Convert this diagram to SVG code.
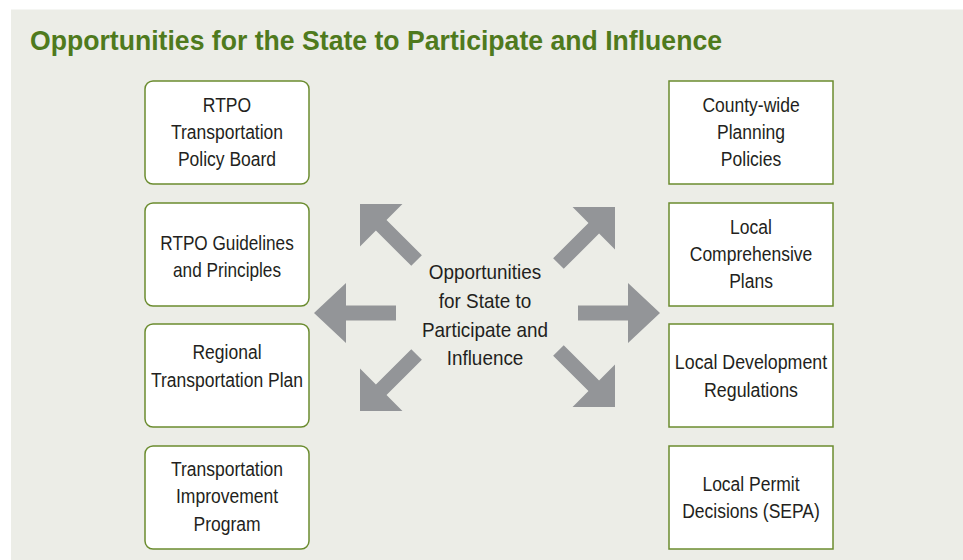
<svg xmlns="http://www.w3.org/2000/svg" width="963" height="560" viewBox="0 0 963 560">
<style>
.bg{fill:#ffffff}
.panel{fill:#ecede7}
.title{font-family:"Liberation Sans",Arial,sans-serif;font-weight:bold;font-size:28px;fill:#4f7a1d}
.box{fill:#ffffff;stroke:#6b8c2f;stroke-width:1.5}
.lbl{font-family:"Liberation Sans",Arial,sans-serif;font-size:20px;fill:#231f20;text-anchor:middle}
.clbl{font-family:"Liberation Sans",Arial,sans-serif;font-size:21px;fill:#231f20;text-anchor:middle}
.arrow{fill:#939598}
</style>
<defs>
<path id="ah" d="M0,0 L-32,-30 L-32,-7.5 L-82,-7.5 L-82,7.5 L-32,7.5 L-32,30 Z"/>
<path id="ad" d="M0,0 L-30,-30 L-30,-7.5 L-80,-7.5 L-80,7.5 L-30,7.5 L-30,30 Z"/>
</defs>
<rect class="bg" x="0" y="0" width="963" height="560"/>
<rect class="panel" x="11" y="9.5" width="952" height="551"/>
<text class="title" x="30" y="50" textLength="692" lengthAdjust="spacingAndGlyphs">Opportunities for the State to Participate and Influence</text>

<g id="connectors">
<use href="#ah" class="arrow" transform="translate(314,313) rotate(180)"/>
<use href="#ah" class="arrow" transform="translate(660,313)"/>
<use href="#ad" class="arrow" transform="translate(360,204) rotate(225)"/>
<use href="#ad" class="arrow" transform="translate(615,207) rotate(-45)"/>
<use href="#ad" class="arrow" transform="translate(360,411) rotate(135)"/>
<use href="#ad" class="arrow" transform="translate(615,407) rotate(45)"/>
</g>

<g id="center">
<g transform="translate(485,0) scale(0.9,1)">
<text class="clbl" x="0" y="279">Opportunities</text>
<text class="clbl" x="0" y="308">for State to</text>
<text class="clbl" x="0" y="337">Participate and</text>
<text class="clbl" x="0" y="365">Influence</text>
</g>
</g>

<g id="rtpo-board">
<rect class="box" x="145" y="81" width="164" height="103" rx="8"/>
<g transform="translate(227,0) scale(0.875,1)">
<text class="lbl" x="0" y="112">RTPO</text>
<text class="lbl" x="0" y="139">Transportation</text>
<text class="lbl" x="0" y="166">Policy Board</text>
</g>
</g>

<g id="rtpo-guidelines">
<rect class="box" x="145" y="203" width="164" height="103" rx="8"/>
<g transform="translate(227,0) scale(0.86,1)">
<text class="lbl" x="0" y="250">RTPO Guidelines</text>
<text class="lbl" x="0" y="277">and Principles</text>
</g>
</g>

<g id="rtp">
<rect class="box" x="145" y="324" width="164" height="103" rx="8"/>
<g transform="translate(227,0) scale(0.875,1)">
<text class="lbl" x="0" y="359">Regional</text>
<text class="lbl" x="0" y="387">Transportation Plan</text>
</g>
</g>

<g id="tip">
<rect class="box" x="145" y="446" width="164" height="103" rx="8"/>
<g transform="translate(227,0) scale(0.875,1)">
<text class="lbl" x="0" y="476">Transportation</text>
<text class="lbl" x="0" y="503">Improvement</text>
<text class="lbl" x="0" y="531">Program</text>
</g>
</g>

<g id="county-policies">
<rect class="box" x="669" y="81" width="164" height="103"/>
<g transform="translate(751,0) scale(0.875,1)">
<text class="lbl" x="0" y="112">County-wide</text>
<text class="lbl" x="0" y="139">Planning</text>
<text class="lbl" x="0" y="166">Policies</text>
</g>
</g>

<g id="comp-plans">
<rect class="box" x="669" y="203" width="164" height="103"/>
<g transform="translate(751,0) scale(0.875,1)">
<text class="lbl" x="0" y="234">Local</text>
<text class="lbl" x="0" y="261">Comprehensive</text>
<text class="lbl" x="0" y="288">Plans</text>
</g>
</g>

<g id="dev-regs">
<rect class="box" x="669" y="324" width="164" height="103"/>
<g transform="translate(751,0) scale(0.89,1)">
<text class="lbl" x="0" y="369">Local Development</text>
<text class="lbl" x="0" y="397">Regulations</text>
</g>
</g>

<g id="permits">
<rect class="box" x="669" y="446" width="164" height="103"/>
<g transform="translate(751,0) scale(0.875,1)">
<text class="lbl" x="0" y="491">Local Permit</text>
<text class="lbl" x="0" y="518">Decisions (SEPA)</text>
</g>
</g>
</svg>
